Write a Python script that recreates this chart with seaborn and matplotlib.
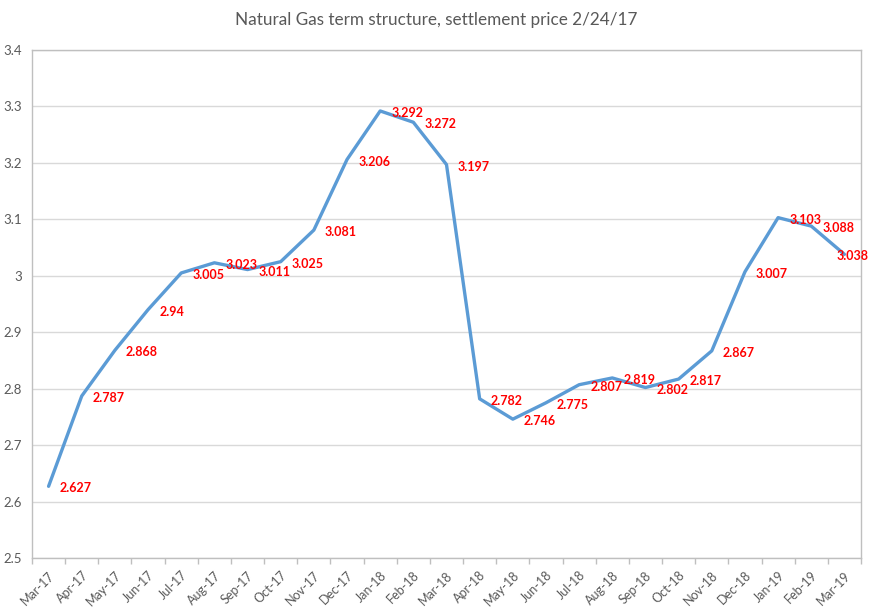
import numpy as np
import pandas as pd
import matplotlib
matplotlib.use("Agg")
import matplotlib.pyplot as plt
import seaborn as sns
from matplotlib.ticker import FuncFormatter, FixedLocator

months = ["Mar-17", "Apr-17", "May-17", "Jun-17", "Jul-17", "Aug-17", "Sep-17",
          "Oct-17", "Nov-17", "Dec-17", "Jan-18", "Feb-18", "Mar-18", "Apr-18",
          "May-18", "Jun-18", "Jul-18", "Aug-18", "Sep-18", "Oct-18", "Nov-18",
          "Dec-18", "Jan-19", "Feb-19", "Mar-19"]
prices = [2.627, 2.787, 2.868, 2.94, 3.005, 3.023, 3.011, 3.025, 3.081, 3.206,
          3.292, 3.272, 3.197, 2.782, 2.746, 2.775, 2.807, 2.819, 2.802, 2.817,
          2.867, 3.007, 3.103, 3.088, 3.038]
title = "Natural Gas term structure, settlement price 2/24/17"

sns.set_style("white")
plt.rcParams['font.family'] = ['Lato', 'DejaVu Sans']

df = pd.DataFrame({"pos": np.arange(len(months)), "price": prices, "month": months})

fig = plt.figure(figsize=(8.73, 6.14), dpi=100)
ax = fig.add_axes([32/873, 1-558/614, (861-32)/873, (558-50)/614])

sns.lineplot(data=df, x="pos", y="price", ax=ax, color="#5B9BD5", linewidth=2.4)

anns = []
for x, y in zip(df["pos"], df["price"]):
    a = ax.annotate(f"{y:g}", (x, y), xytext=(8, -1.5), textcoords="offset points",
                    ha="left", va="center", color="#FF0000", fontsize=9,
                    fontweight="bold", annotation_clip=False)
    anns.append(a)

ax.set_xlim(-0.5, len(months) - 0.5)
ax.set_ylim(2.5, 3.4)
ax.set_yticks(np.arange(2.5, 3.41, 0.1))
ax.yaxis.set_major_formatter(FuncFormatter(lambda v, p: f"{round(v, 1):g}"))
ax.yaxis.grid(True, color="#D9D9D9", linewidth=1)
ax.xaxis.grid(False)

ax.set_xticks(df["pos"])
ax.set_xticklabels(months, rotation=45, ha="right", rotation_mode="anchor")
ax.xaxis.set_minor_locator(FixedLocator(np.arange(-0.5, len(months), 1.0)))
ax.tick_params(axis="x", which="major", length=0, pad=8, labelsize=9, labelcolor="#595959")
ax.tick_params(axis="x", which="minor", length=4.5, width=1, color="#BFBFBF", bottom=True)
ax.tick_params(axis="y", length=0, pad=7, labelsize=9.5, labelcolor="#595959")

for s in ax.spines.values():
    s.set_color("#BFBFBF")
    s.set_linewidth(1)

ax.set_xlabel("")
ax.set_ylabel("")
fig.text(436/873, 1-20/614, title, ha="center", va="center", fontsize=12.3, color="#595959")

# keep data labels inside the figure, as the chart tool does
fig.canvas.draw()
limit = fig.bbox.width - 4
for a in anns:
    bb = a.get_window_extent()
    if bb.x1 > limit:
        dx, dy = a.xyann
        a.xyann = (dx - (bb.x1 - limit) * 72 / fig.dpi, dy)

fig.savefig("out.png", dpi=100)
